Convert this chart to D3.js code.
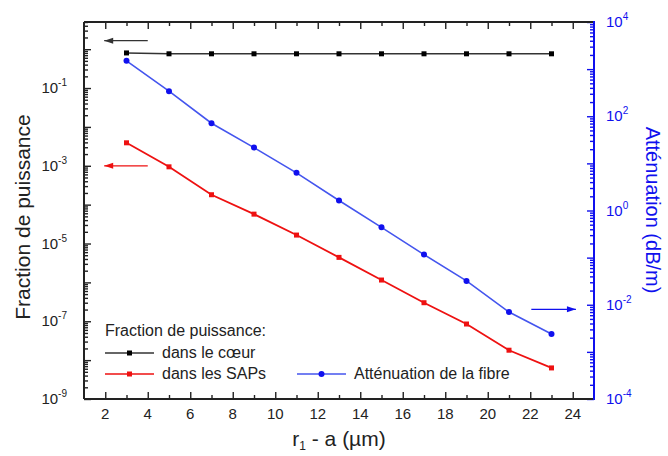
<!DOCTYPE html>
<html><head><meta charset="utf-8">
<script src="https://cdn.jsdelivr.net/npm/d3@7"></script>
<style>
body{margin:0;background:#fff}
text{font-family:"Liberation Sans",Arial,Helvetica,sans-serif}
</style>
</head><body>
<svg id="c" width="668" height="456"></svg>
<script>
// ---- data ----
const xValues = [3,5,7,9,11,13,15,17,19,21,23];
const coreFraction = [0.80,0.76,0.76,0.76,0.76,0.76,0.76,0.76,0.76,0.76,0.76];
const sapFraction = [3.9e-3,9.4e-4,1.8e-4,5.7e-5,1.65e-5,4.4e-6,1.15e-6,3.0e-7,8.5e-8,1.8e-8,6.3e-9];
const attenuation = [1500,340,71,21.6,6.3,1.63,0.44,0.116,0.032,0.0070,0.0024];
const xMajorTicks = [2,4,6,8,10,12,14,16,18,20,22,24];
const xMinorTicks = [1,3,5,7,9,11,13,15,17,19,21,23,25];
const leftLabelExps = [-9,-7,-5,-3,-1];
const leftDecadeExps = [-9,-8,-7,-6,-5,-4,-3,-2,-1,0];
const rightLabelExps = [-4,-2,0,2,4];
const rightDecadeExps = [-4,-3,-2,-1,0,1,2,3,4];
const legendTitle = "Fraction de puissance:";
const seriesNames = ["dans le cœur","dans les SAPs","Atténuation de la fibre"];

// ---- layout ----
const svg = d3.select("#c");
const L=84, R=594, T=22, B=399;
const x = d3.scaleLinear().domain([1,25]).range([L,R]);
const yL = d3.scaleLog().domain([1e-9,5]).range([B,T]);
const yR = d3.scaleLog().domain([1e-4,1e4]).range([B,T]);
const AX="#222", BLUE="#1010ee", LBLUE="#4455ee", RED="#ee1111";

function minors(scale){
  const [lo,hi]=scale.domain(); const out=[];
  for(let e=Math.floor(Math.log10(lo)); e<=Math.ceil(Math.log10(hi)); e++)
    for(let m=2;m<=9;m++){const v=m*Math.pow(10,e); if(v>=lo*0.999&&v<=hi*1.001) out.push(v);}
  return out;
}
function styleAxis(g,color){
  g.select(".domain").remove();
  g.selectAll("line").attr("stroke",color).attr("stroke-width",1.4);
}

// x axes bottom & top (ticks inward)
svg.append("g").attr("transform",`translate(0,${B})`)
  .call(d3.axisBottom(x).tickValues(xMajorTicks).tickSize(-7).tickFormat(""))
  .call(g=>styleAxis(g,AX));
svg.append("g").attr("transform",`translate(0,${B})`)
  .call(d3.axisBottom(x).tickValues(xMinorTicks.filter(v=>v>1&&v<25)).tickSize(-4).tickFormat(""))
  .call(g=>styleAxis(g,AX));
svg.append("g").attr("transform",`translate(0,${T})`)
  .call(d3.axisTop(x).tickValues(xMajorTicks).tickSize(-7).tickFormat(""))
  .call(g=>styleAxis(g,AX));
svg.append("g").attr("transform",`translate(0,${T})`)
  .call(d3.axisTop(x).tickValues(xMinorTicks.filter(v=>v>1&&v<25)).tickSize(-4).tickFormat(""))
  .call(g=>styleAxis(g,AX));

// left axis
svg.append("g").attr("transform",`translate(${L},0)`)
  .call(d3.axisLeft(yL).tickValues(leftDecadeExps.map(e=>Math.pow(10,e))).tickSize(-7).tickFormat(""))
  .call(g=>styleAxis(g,AX));
svg.append("g").attr("transform",`translate(${L},0)`)
  .call(d3.axisLeft(yL).tickValues(minors(yL)).tickSize(-4).tickFormat(""))
  .call(g=>styleAxis(g,AX));
// right axis
svg.append("g").attr("transform",`translate(${R},0)`)
  .call(d3.axisRight(yR).tickValues(rightDecadeExps.map(e=>Math.pow(10,e))).tickSize(-7).tickFormat(""))
  .call(g=>styleAxis(g,BLUE));
svg.append("g").attr("transform",`translate(${R},0)`)
  .call(d3.axisRight(yR).tickValues(minors(yR)).tickSize(-4).tickFormat(""))
  .call(g=>styleAxis(g,BLUE));

// frame
svg.append("line").attr("x1",L).attr("x2",R).attr("y1",B).attr("y2",B).attr("stroke",AX).attr("stroke-width",2);
svg.append("line").attr("x1",L).attr("x2",R).attr("y1",T).attr("y2",T).attr("stroke",AX).attr("stroke-width",2);
svg.append("line").attr("x1",L).attr("x2",L).attr("y1",T).attr("y2",B).attr("stroke",AX).attr("stroke-width",2);
svg.append("line").attr("x1",R).attr("x2",R).attr("y1",T-1).attr("y2",B+1).attr("stroke",BLUE).attr("stroke-width",2);

// tick labels
svg.append("g").selectAll("text").data(xMajorTicks).join("text")
  .attr("x",d=>x(d)).attr("y",B+20).attr("text-anchor","middle")
  .attr("font-size",15).attr("fill",AX).text(d=>d);
function expLabel(g,e,anchor,color){
  const t=g.append("text").attr("text-anchor",anchor).attr("fill",color).attr("font-size",15);
  t.append("tspan").text("10");
  t.append("tspan").attr("font-size",10).attr("dy",-7).text(String(e));
  return t;
}
const gl=svg.append("g");
leftLabelExps.forEach(e=>{expLabel(gl,e,"end",AX).attr("x",L-17).attr("y",yL(Math.pow(10,e))+5);});
const gr=svg.append("g");
rightLabelExps.forEach(e=>{expLabel(gr,e,"start",BLUE).attr("x",R+12).attr("y",yR(Math.pow(10,e))+5);});

// axis titles
svg.append("text").attr("transform",`translate(30,217) rotate(-90)`).attr("text-anchor","middle")
  .attr("font-size",21).attr("fill",AX).text("Fraction de puissance");
svg.append("text").attr("transform",`translate(646,210) rotate(90)`).attr("text-anchor","middle")
  .attr("font-size",20).attr("fill",BLUE).text("Atténuation (dB/m)");
const xt=svg.append("text").attr("x",339).attr("y",446).attr("text-anchor","middle").attr("font-size",21).attr("fill",AX);
xt.append("tspan").text("r");
xt.append("tspan").attr("font-size",12).attr("dy",4).text("1");
xt.append("tspan").attr("dy",-4).text(" - a (µm)");

// series
const lineL = d3.line().x((d,i)=>x(xValues[i])).y(d=>yL(d));
const lineR = d3.line().x((d,i)=>x(xValues[i])).y(d=>yR(d));
svg.append("path").datum(coreFraction).attr("d",lineL).attr("fill","none").attr("stroke","#333").attr("stroke-width",1.5);
svg.append("path").datum(sapFraction).attr("d",lineL).attr("fill","none").attr("stroke",RED).attr("stroke-width",1.8);
svg.append("path").datum(attenuation).attr("d",lineR).attr("fill","none").attr("stroke",LBLUE).attr("stroke-width",1.6);
svg.append("g").selectAll("rect").data(coreFraction).join("rect")
  .attr("x",(d,i)=>x(xValues[i])-2.5).attr("y",d=>yL(d)-2.5).attr("width",5).attr("height",5).attr("fill","#000");
svg.append("g").selectAll("rect").data(sapFraction).join("rect")
  .attr("x",(d,i)=>x(xValues[i])-2.5).attr("y",d=>yL(d)-2.5).attr("width",5).attr("height",5).attr("fill",RED);
svg.append("g").selectAll("circle").data(attenuation).join("circle")
  .attr("cx",(d,i)=>x(xValues[i])).attr("cy",d=>yR(d)).attr("r",3).attr("fill",BLUE);

// arrows
function arrow(x1,x2,y,color){
  svg.append("line").attr("x1",x1).attr("x2",x2).attr("y1",y).attr("y2",y).attr("stroke",color).attr("stroke-width",1.3);
  const d = x2<x1 ? 1 : -1;
  svg.append("path").attr("d",`M${x2},${y} L${x2+d*9},${y-3} L${x2+d*9},${y+3} Z`).attr("fill",color);
}
arrow(x(4.0),x(1.95),yL(1.65),"#333");
arrow(x(4.0),x(1.95),yL(1e-3),RED);
arrow(x(22.05),x(24.15),yR(0.008),BLUE);

// legend
const lg=svg.append("g");
lg.append("text").attr("x",105).attr("y",336).attr("font-size",16).attr("fill",AX).text(legendTitle);
const items=[{c:"#333",m:"#000",t:"sq",x:105,y:353,name:seriesNames[0]},
             {c:RED,m:RED,t:"sq",x:105,y:374,name:seriesNames[1]},
             {c:LBLUE,m:BLUE,t:"ci",x:297,y:374,name:seriesNames[2]}];
items.forEach(it=>{
  lg.append("line").attr("x1",it.x).attr("x2",it.x+49).attr("y1",it.y).attr("y2",it.y).attr("stroke",it.c).attr("stroke-width",1.6);
  if(it.t==="sq") lg.append("rect").attr("x",it.x+24.5-2.5).attr("y",it.y-2.5).attr("width",5).attr("height",5).attr("fill",it.m);
  else lg.append("circle").attr("cx",it.x+24.5).attr("cy",it.y).attr("r",3).attr("fill",it.m);
  lg.append("text").attr("x",it.x+57).attr("y",it.y+5).attr("font-size",16).attr("fill",AX).text(it.name);
});
</script>
</body></html>
